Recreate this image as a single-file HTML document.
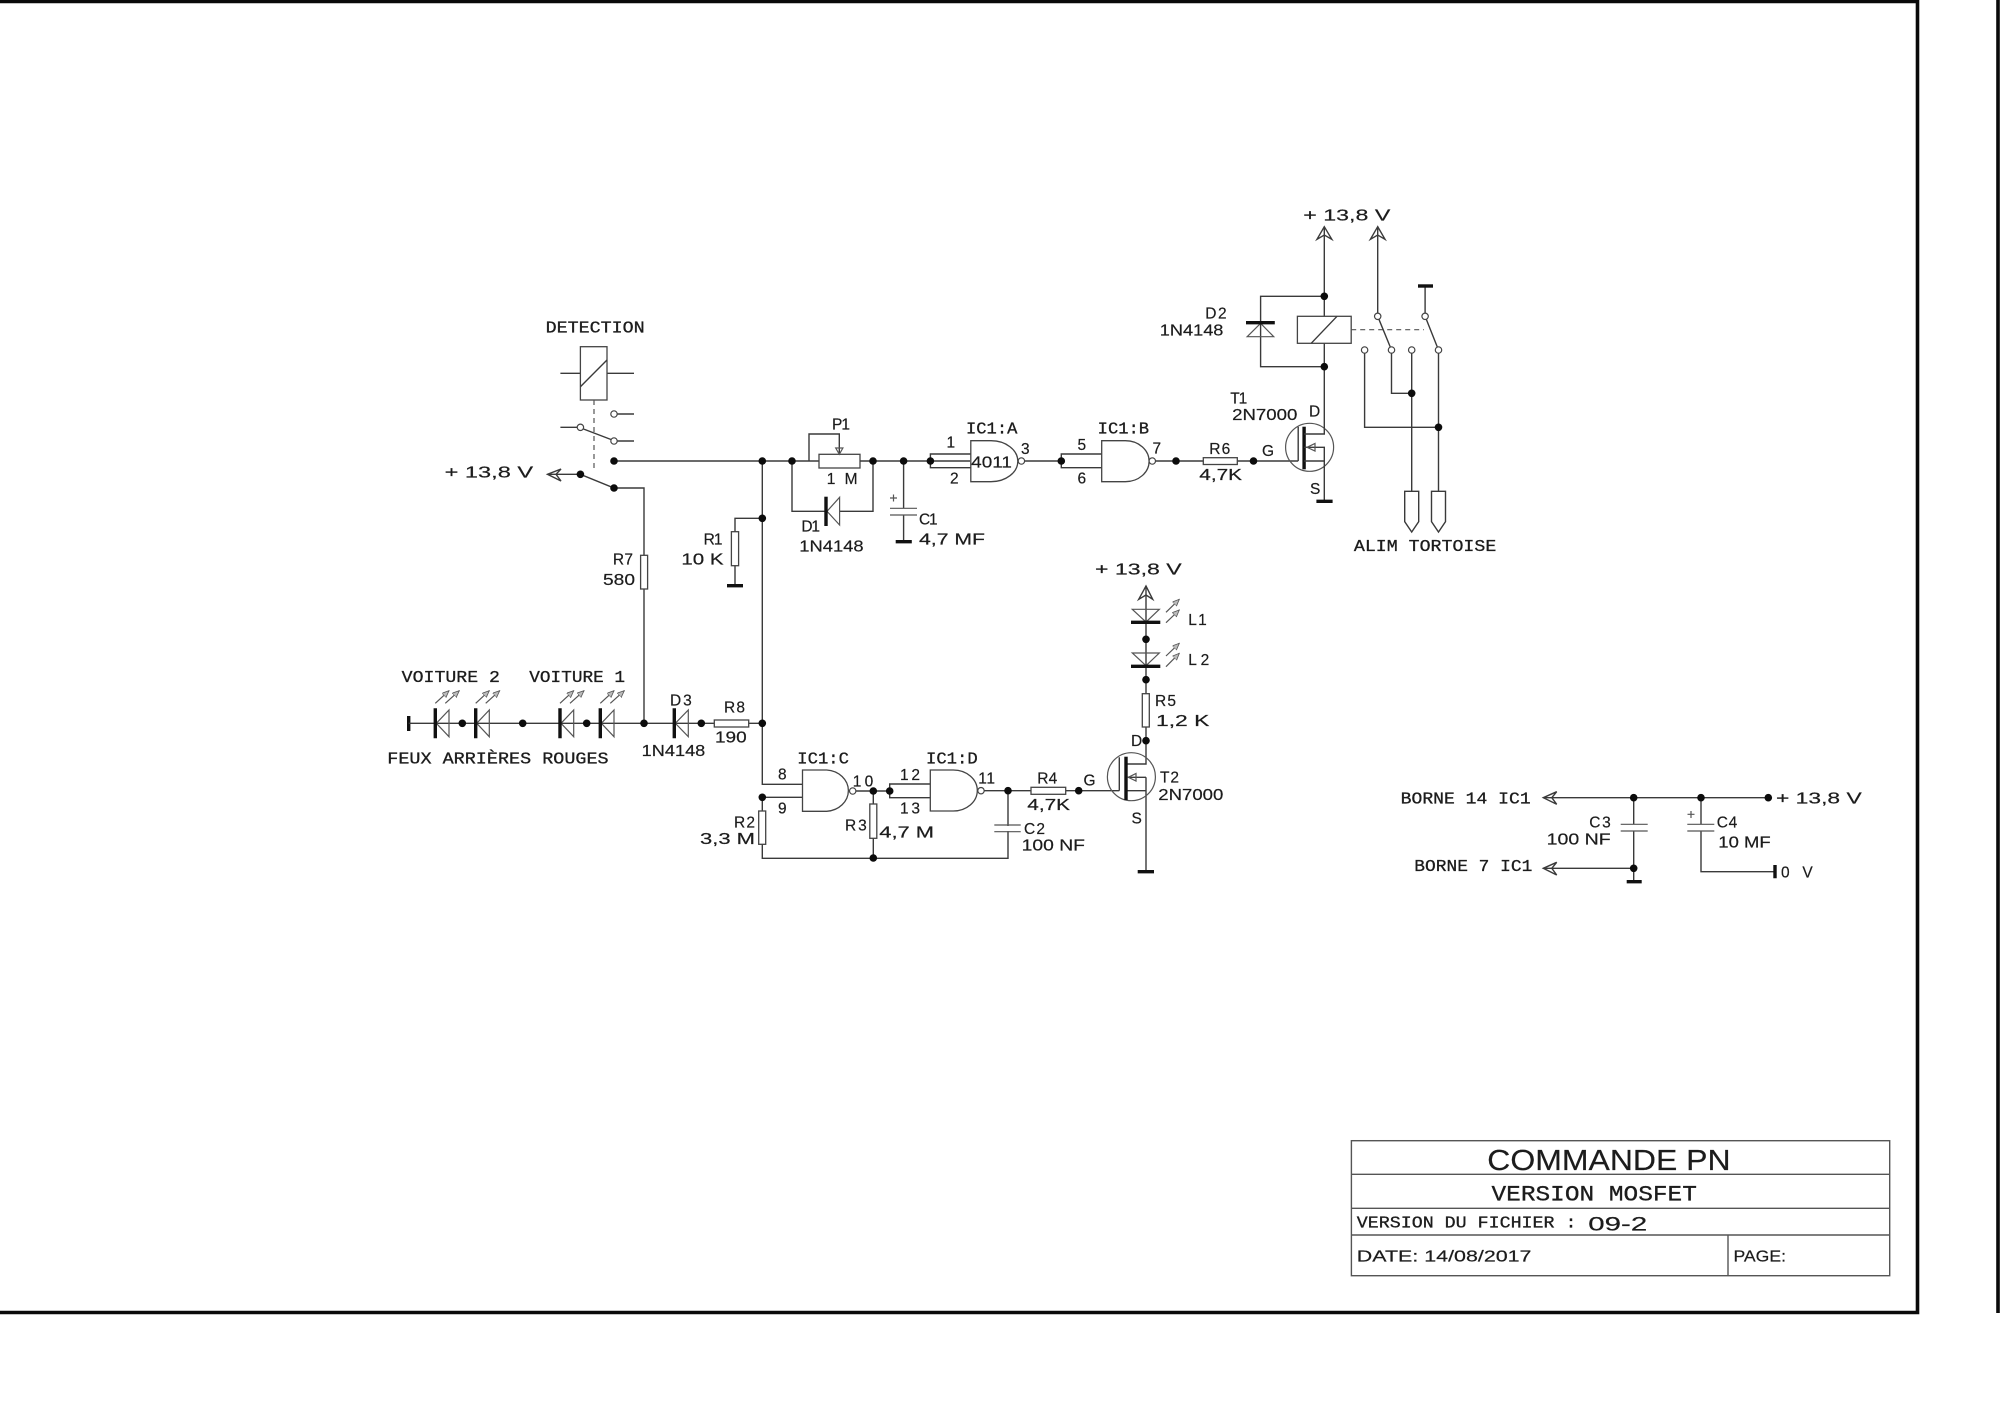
<!DOCTYPE html>
<html><head><meta charset="utf-8"><title>COMMANDE PN</title>
<style>
html,body{margin:0;padding:0;background:#fff}
svg{display:block}
text{font-family:"Liberation Sans",sans-serif;font-size:15.5px;fill:#1c1c1c;stroke:#1c1c1c;stroke-width:.2}
text.m{font-family:"Liberation Mono",monospace;font-size:16.5px;stroke-width:.3}
.w{fill:none;stroke:#3a3a3a;stroke-width:1.4}
.wf{fill:#fff;stroke:#444;stroke-width:1.3}
.b{fill:none;stroke:#111;stroke-width:3.4}
.t{fill:none;stroke:#555;stroke-width:1.2}
.d{fill:none;stroke:#555;stroke-width:1.2;stroke-dasharray:5 4}
.dots circle{fill:#0c0c0c;stroke:none}
.open circle{fill:#fff;stroke:#444;stroke-width:1.2}
</style></head><body>
<svg width="2000" height="1413" viewBox="0 0 2000 1413" xmlns="http://www.w3.org/2000/svg">
<defs><marker id="ar" markerWidth="8" markerHeight="8" refX="7" refY="3" orient="auto" markerUnits="userSpaceOnUse"><path d="M0,0 L7,3 L0,6 Z" fill="#bbb" stroke="#555" stroke-width=".8"/></marker></defs>
<rect width="2000" height="1413" fill="#fff"/>
<!-- frame -->
<path d="M0,1.5 H1917.5 V1312.5 H0" fill="none" stroke="#0a0a0a" stroke-width="3.6"/>
<path d="M1998,0 V1313" fill="none" stroke="#0a0a0a" stroke-width="3.6"/>

<!-- title block -->
<rect x="1351.4" y="1140.7" width="538.3" height="135" fill="none" stroke="#555" stroke-width="1.4"/>
<path d="M1351.4,1174.3 H1889.7 M1351.4,1208.3 H1889.7 M1351.4,1235 H1889.7 M1728,1235 V1275.7" fill="none" stroke="#555" stroke-width="1.4"/>
<text x="1487.3" y="1170" textLength="243.3" lengthAdjust="spacingAndGlyphs" style="font-size:29px">COMMANDE PN</text>
<text class="m" x="1491.5" y="1200.7" textLength="205.4" lengthAdjust="spacingAndGlyphs" style="font-size:22px">VERSION MOSFET</text>
<text class="m" x="1356.8" y="1227.7" textLength="219.7" lengthAdjust="spacingAndGlyphs">VERSION DU FICHIER :</text>
<text x="1588.3" y="1230.7" textLength="58.9" lengthAdjust="spacingAndGlyphs" style="font-size:19.5px">09-2</text>
<text x="1356.8" y="1261.7" textLength="174.7" lengthAdjust="spacingAndGlyphs">DATE: 14/08/2017</text>
<text x="1733.5" y="1261.7" textLength="52.5" lengthAdjust="spacingAndGlyphs">PAGE:</text>

<!-- DETECTION relay -->
<path class="w" d="M560.4,373.3 H634"/>
<rect class="wf" x="580.4" y="346.7" width="26.6" height="53.3"/>
<path class="w" d="M580.4,386.7 L607,360"/>
<path class="d" d="M594,400 V472"/>
<path class="w" d="M617,414 H634 M560.4,427.3 H577 M583.5,429 L611,439.5 M617,441 H634"/>
<path class="w" d="M547.5,474.3 H580.4 L614,488 H644 V723.3"/>
<path class="w" d="M547.5,474.3 L561,469 L556,474.3 L561,481 Z"/>
<path class="w" d="M614,461 H819"/>
<path class="w" d="M762.3,461 V784.3 H802.5"/>
<rect class="wf" x="640.6" y="555.3" width="7" height="33.7"/>

<!-- P1 + D1 -->
<path class="w" d="M809,461 V434 H839.3 V454.3"/>
<rect class="wf" x="819" y="454.3" width="41" height="13.7"/>
<path class="t" d="M835.7,448 H842.9 L839.3,454.3 Z"/>
<path class="w" d="M860,461 H970 M792,461 V511.3 H826 M839.6,511.3 H873 V461"/>
<path class="t" d="M827,511.3 L839.6,497.3 V525 Z"/>
<path class="b" d="M826,496.7 V526"/>
<!-- R1 -->
<path class="w" d="M762.3,518.3 H735 V585.7"/>
<rect class="wf" x="731.4" y="531.7" width="7.2" height="34"/>
<path class="b" d="M727,585.7 H743"/>
<!-- C1 -->
<path class="w" d="M903.6,461 V508.3 M903.6,515 V541.7"/>
<path class="t" d="M890,508.3 H917 M890,515 H917"/>
<path class="b" d="M895.7,541.7 H911.8"/>
<path class="t" d="M890,498 H897 M893.5,494.5 V501.5"/>

<!-- gates A,B -->
<path class="w" d="M930.4,461 V454 H970.8 M930.4,461 V467.7 H970.8 M1024.4,461 H1061.3 V454 H1101.7 M1061.3,461 V467.7 H1101.7 M1155.3,461 H1203.3 M1237.3,461 H1298.2"/>
<path class="wf" d="M970.8,440.7 H991 A26.8,20.5 0 0 1 991,481.7 H970.8 Z"/>
<path class="wf" d="M1101.7,440.7 H1125.4 A23.7,20.5 0 0 1 1125.4,481.7 H1101.7 Z"/>
<rect class="wf" x="1203.3" y="457.7" width="34" height="6.8"/>

<!-- T1 -->
<circle class="t" cx="1309.6" cy="447.3" r="24"/>
<path class="w" d="M1298.2,426.7 V461"/>
<path class="b" d="M1304.1,426.7 V469.3"/>
<path class="w" d="M1304.1,434 H1324.3 V226.7 M1304.1,447.3 H1324.3 V501.3 M1304.1,461 H1324.3"/>
<path class="t" d="M1307,447.3 L1315,443.5 V451 Z"/>
<path class="b" d="M1316.4,501.3 H1332.6"/>
<path class="w" d="M1324.3,226.7 L1317,239.3 L1324.3,235 L1331.8,239.3 Z"/>

<!-- relay top -->
<path class="w" d="M1324.3,296.3 H1260.6 V366.7 H1324.3"/>
<path class="t" d="M1247.2,336.7 H1273.7 L1260.6,323.3 Z"/>
<path class="b" d="M1246,322.7 H1274.8"/>
<rect class="wf" x="1297.4" y="316.3" width="53.8" height="27"/>
<path class="w" d="M1311.2,343.3 L1337,316.3"/>
<path class="d" d="M1351.2,329.7 H1424"/>
<path class="w" d="M1377.7,226.7 V316.3 L1391.5,350 M1425.1,286 V316.3 L1438.5,350"/>
<path class="b" d="M1418,286 H1433"/>
<path class="w" d="M1377.7,226.7 L1370.4,239.3 L1377.7,235 L1385,239.3 Z"/>
<path class="w" d="M1364.6,350 V427.3 H1438.5 M1438.5,350 V491.3 M1391.5,350 V393.3 H1411.7 M1411.7,350 V491.3"/>
<path class="w" d="M1404.7,491.3 H1418.7 V521.7 L1411.7,532 L1404.7,521.7 Z"/>
<path class="w" d="M1431.5,491.3 H1445.5 V521.7 L1438.5,532 L1431.5,521.7 Z"/>

<!-- lower left string -->
<path class="b" d="M408.7,716 V731"/>
<path class="w" d="M408.7,723.3 H714.3 M748.7,723.3 H762.3"/>
<rect class="wf" x="714.3" y="720" width="34.4" height="7"/>
<g class="t">
<path d="M436.3,723.3 L449,710 V736.7 Z"/><path d="M476.7,723.3 L489.3,710 V736.7 Z"/><path d="M561,723.3 L573.7,710 V736.7 Z"/><path d="M601.3,723.3 L614,710 V736.7 Z"/><path d="M675.3,723.3 L688.3,710 V736.7 Z"/>
</g>
<path class="b" d="M435.3,708.3 V738.3 M475.7,708.3 V738.3 M560,708.3 V738.3 M600.3,708.3 V738.3 M674.3,708.3 V738.3"/>
<g class="t">
<path marker-end="url(#ar)" d="M435.3,703.3 L449,690.7"/><path marker-end="url(#ar)" d="M445.3,703.3 L459.3,690.7"/>
<path marker-end="url(#ar)" d="M475.7,703.3 L489.3,690.7"/><path marker-end="url(#ar)" d="M485.7,703.3 L499.7,690.7"/>
<path marker-end="url(#ar)" d="M560,703.3 L573.7,690.7"/><path marker-end="url(#ar)" d="M570,703.3 L584,690.7"/>
<path marker-end="url(#ar)" d="M600.3,703.3 L614,690.7"/><path marker-end="url(#ar)" d="M610.3,703.3 L624.3,690.7"/>
</g>

<!-- gates C,D -->
<path class="w" d="M762.3,797.3 H802.5 M762.3,797.3 V858.3 H1008 V790.7 M856,791 H889.7 V784 H930.3 M889.7,791 V797.7 H930.3 M984,790.7 H1031 M1065.7,790.7 H1119.3"/>
<path class="wf" d="M802.5,770 H826.7 A23.3,20.7 0 0 1 826.7,811.3 H802.5 Z"/>
<path class="wf" d="M930.3,770 H953.3 A24,20.5 0 0 1 953.3,811 H930.3 Z"/>
<rect class="wf" x="758.7" y="811" width="7" height="33.3"/>
<path class="w" d="M873.3,791 V858"/>
<rect class="wf" x="869.8" y="804" width="7" height="34.3"/>
<path class="t" d="M994.3,825 H1020.7 M994.3,831.7 H1020.7"/>
<rect x="1000" y="826" width="16" height="5" fill="#fff"/>
<rect class="wf" x="1031" y="787.3" width="34.7" height="7"/>

<!-- T2 column -->
<path class="w" d="M1146,586 V764 H1126 M1146,777.3 H1126 M1146,777.3 V871.7 M1126,790.7 H1146"/>
<path class="w" d="M1146,586 L1138.7,599.3 L1146,595 L1152.7,599.3 Z"/>
<path class="t" d="M1132.3,609.3 H1159.3 L1146,622 Z"/>
<path class="t" d="M1132.3,653 H1159.3 L1146,665.7 Z"/>
<path class="b" d="M1131,622.3 H1160.3 M1131,666.3 H1160.3 M1137.7,871.7 H1154"/>
<path marker-end="url(#ar)" class="t" d="M1166,612.3 L1179.3,599.3"/><path marker-end="url(#ar)" class="t" d="M1166,622.7 L1179.3,610"/>
<path marker-end="url(#ar)" class="t" d="M1166,656 L1179.3,643.3"/><path marker-end="url(#ar)" class="t" d="M1166,666.7 L1179.3,653.3"/>
<rect class="wf" x="1142.3" y="693.7" width="7" height="33.3"/>
<circle class="t" cx="1131.4" cy="776.7" r="24"/>
<path class="w" d="M1119.3,757.3 V790.7"/>
<path class="b" d="M1126,756.7 V800"/>
<path class="t" d="M1128.3,777.3 L1136,773.5 V781 Z"/>

<!-- supply decoupling -->
<path class="w" d="M1543.3,797.7 H1768.3 M1543.3,868.3 H1633.7 M1633.7,797.7 V824.3 M1633.7,831 V881.7 M1701,797.7 V824.3 M1701,831 V871.7 H1775"/>
<path class="w" d="M1543.3,797.7 L1556.7,791.7 L1551.8,797.7 L1556.7,804.3 Z"/>
<path class="w" d="M1543.3,868.3 L1556.7,862.3 L1551.8,868.3 L1556.7,875 Z"/>
<path class="t" d="M1620.7,824.3 H1647.7 M1620.7,831 H1647.7 M1687.3,824.3 H1714.3 M1687.3,831 H1714.3"/>
<path class="t" d="M1687.5,814.3 H1694.5 M1691,811 V818"/>
<path class="b" d="M1626.7,881.7 H1641.7 M1775,865 V878.3"/>

<!-- open circles -->
<g class="open">
<circle cx="614" cy="414" r="3.2"/><circle cx="580.4" cy="427.3" r="3.2"/><circle cx="614" cy="441" r="3.2"/>
<circle cx="1021.4" cy="461" r="3.2"/><circle cx="1152.3" cy="461" r="3.2"/><circle cx="852.7" cy="791" r="3.2"/><circle cx="981" cy="790.7" r="3.2"/>
<circle cx="1377.7" cy="316.3" r="3.2"/><circle cx="1364.6" cy="350" r="3.2"/><circle cx="1391.5" cy="350" r="3.2"/><circle cx="1411.7" cy="350" r="3.2"/><circle cx="1438.5" cy="350" r="3.2"/><circle cx="1425.1" cy="316.3" r="3.2"/>
</g>
<!-- dots -->
<g class="dots">
<circle cx="614" cy="461" r="3.8"/><circle cx="580.4" cy="474.3" r="3.8"/><circle cx="614" cy="488" r="3.8"/>
<circle cx="762.3" cy="461" r="3.8"/><circle cx="792" cy="461" r="3.8"/><circle cx="873" cy="461" r="3.8"/><circle cx="903.6" cy="461" r="3.8"/>
<circle cx="762.3" cy="518.3" r="3.8"/><circle cx="930.4" cy="461" r="3.8"/><circle cx="1061.3" cy="461" r="3.8"/><circle cx="1176" cy="461" r="3.8"/><circle cx="1253.5" cy="461" r="3.8"/>
<circle cx="1324.3" cy="296.3" r="3.8"/><circle cx="1324.3" cy="366.7" r="3.8"/><circle cx="1411.7" cy="393.3" r="3.8"/><circle cx="1438.5" cy="427.3" r="3.8"/>
<circle cx="462.3" cy="723.3" r="3.8"/><circle cx="522.7" cy="723.3" r="3.8"/><circle cx="586.7" cy="723.3" r="3.8"/><circle cx="644" cy="723.3" r="3.8"/><circle cx="701.3" cy="723.3" r="3.8"/><circle cx="762.3" cy="723.3" r="3.8"/>
<circle cx="762.3" cy="797.3" r="3.8"/><circle cx="873.3" cy="791" r="3.8"/><circle cx="889.7" cy="791" r="3.8"/><circle cx="873.3" cy="858" r="3.8"/><circle cx="1008" cy="790.7" r="3.8"/><circle cx="1078.7" cy="790.7" r="3.8"/>
<circle cx="1146" cy="639.3" r="3.8"/><circle cx="1146" cy="679.7" r="3.8"/><circle cx="1146" cy="740.7" r="3.8"/>
<circle cx="1633.7" cy="797.7" r="3.8"/><circle cx="1701" cy="797.7" r="3.8"/><circle cx="1768.3" cy="797.7" r="3.8"/><circle cx="1633.7" cy="868.3" r="3.8"/>
</g>

<!-- labels -->
<g>
<text class="m" x="545.7" y="332.3" textLength="99" lengthAdjust="spacingAndGlyphs">DETECTION</text>
<text x="444.6" y="477.3" textLength="88.5" lengthAdjust="spacingAndGlyphs">+ 13,8 V</text>
<text x="832" y="429.3" textLength="18">P1</text>
<text x="826.8" y="484" textLength="30.7">1 M</text>
<text x="801.4" y="531.3" textLength="18.6">D1</text>
<text x="799.3" y="551.7" textLength="64.3" lengthAdjust="spacingAndGlyphs">1N4148</text>
<text x="703.6" y="544.7" textLength="18.9">R1</text>
<text x="681.4" y="564.7" textLength="42.2" lengthAdjust="spacingAndGlyphs">10 K</text>
<text x="612.9" y="564.7" textLength="20.1">R7</text>
<text x="603" y="585" textLength="32" lengthAdjust="spacingAndGlyphs">580</text>

<text x="1303.3" y="220.7" textLength="87" lengthAdjust="spacingAndGlyphs">+ 13,8 V</text>
<text x="1205.3" y="318.7" textLength="21.3">D2</text>
<text x="1159.8" y="335.3" textLength="63.6" lengthAdjust="spacingAndGlyphs">1N4148</text>
<text class="m" x="1353.9" y="551" textLength="142.4" lengthAdjust="spacingAndGlyphs">ALIM TORTOISE</text>
<text x="1230.2" y="403.3" textLength="17">T1</text>
<text x="1232.1" y="420" textLength="65.3" lengthAdjust="spacingAndGlyphs">2N7000</text>
<text x="1309" y="416.7">D</text>
<text x="1310" y="494">S</text>
<text x="1262" y="456">G</text>
<text x="1209.2" y="454" textLength="21">R6</text>
<text x="1199.3" y="480" textLength="42.7" lengthAdjust="spacingAndGlyphs">4,7K</text>
<text class="m" x="966" y="433.3" textLength="51.4" lengthAdjust="spacingAndGlyphs">IC1:A</text>
<text class="m" x="1097.7" y="433.3" textLength="51.4" lengthAdjust="spacingAndGlyphs">IC1:B</text>
<text x="946.5" y="447.3">1</text>
<text x="950" y="483.3">2</text>
<text x="971.2" y="467.3" textLength="40.7" lengthAdjust="spacingAndGlyphs">4011</text>
<text x="1021" y="454">3</text>
<text x="1077.5" y="450">5</text>
<text x="1077.5" y="483.3">6</text>
<text x="1152.5" y="453.3">7</text>
<text x="919" y="524.3" textLength="18.6">C1</text>
<text x="919" y="544.3" textLength="66" lengthAdjust="spacingAndGlyphs">4,7 MF</text>

<text class="m" x="401.7" y="682" textLength="98.3" lengthAdjust="spacingAndGlyphs">VOITURE 2</text>
<text class="m" x="529.3" y="682" textLength="95.7" lengthAdjust="spacingAndGlyphs">VOITURE 1</text>
<text class="m" x="387.3" y="763.3" textLength="221.3" lengthAdjust="spacingAndGlyphs">FEUX ARRIÈRES ROUGES</text>
<text x="641.7" y="756" textLength="63.6" lengthAdjust="spacingAndGlyphs">1N4148</text>
<text x="670" y="705.7" textLength="21.7">D3</text>
<text x="724" y="712.3" textLength="21">R8</text>
<text x="715" y="742.7" textLength="31.7" lengthAdjust="spacingAndGlyphs">190</text>
<text class="m" x="797.3" y="763.3" textLength="51.7" lengthAdjust="spacingAndGlyphs">IC1:C</text>
<text x="778" y="779.3">8</text>
<text x="778" y="813.3">9</text>
<text x="852.7" y="786.5" textLength="20.6">10</text>
<text x="734" y="827.3" textLength="21">R2</text>
<text x="700" y="844" textLength="55" lengthAdjust="spacingAndGlyphs">3,3 M</text>
<text x="845" y="830.7" textLength="21.7">R3</text>

<text x="1095" y="574.3" textLength="86.7" lengthAdjust="spacingAndGlyphs">+ 13,8 V</text>
<text x="1160" y="782.7" textLength="19">T2</text>
<text x="1158.3" y="800" textLength="65" lengthAdjust="spacingAndGlyphs">2N7000</text>
<text x="1131" y="746">D</text>
<text x="1131.5" y="823.3">S</text>
<text x="1083.5" y="785.7">G</text>
<text x="1037.3" y="783.3" textLength="20">R4</text>
<text x="1027.3" y="810" textLength="42.7" lengthAdjust="spacingAndGlyphs">4,7K</text>
<text x="1188.3" y="625" textLength="18.4">L1</text>
<text x="1188.3" y="665" textLength="21">L2</text>
<text x="1155" y="706" textLength="21">R5</text>
<text x="1156" y="726" textLength="53.3" lengthAdjust="spacingAndGlyphs">1,2 K</text>
<text x="879.3" y="837.3" textLength="54.7" lengthAdjust="spacingAndGlyphs">4,7 M</text>
<text x="1024" y="834" textLength="21">C2</text>
<text x="1021.7" y="850.7" textLength="63.3" lengthAdjust="spacingAndGlyphs">100 NF</text>
<text class="m" x="926" y="763.3" textLength="51.7" lengthAdjust="spacingAndGlyphs">IC1:D</text>
<text x="900" y="780" textLength="20">12</text>
<text x="900" y="813.3" textLength="20">13</text>
<text x="978.3" y="783.3" textLength="16.7">11</text>

<text class="m" x="1400.7" y="803.3" textLength="130" lengthAdjust="spacingAndGlyphs">BORNE 14 IC1</text>
<text class="m" x="1414.3" y="871" textLength="118" lengthAdjust="spacingAndGlyphs">BORNE 7 IC1</text>
<text x="1776" y="803.3" textLength="85.7" lengthAdjust="spacingAndGlyphs">+ 13,8 V</text>
<text x="1589.3" y="827.3" textLength="21.4">C3</text>
<text x="1546.7" y="844.3" textLength="64" lengthAdjust="spacingAndGlyphs">100 NF</text>
<text x="1716.7" y="827.3" textLength="20.6">C4</text>
<text x="1718.3" y="847.3" textLength="52.4" lengthAdjust="spacingAndGlyphs">10 MF</text>
<text x="1781" y="877.3" textLength="31.7">0 V</text>
</g>
</svg>
</body></html>
